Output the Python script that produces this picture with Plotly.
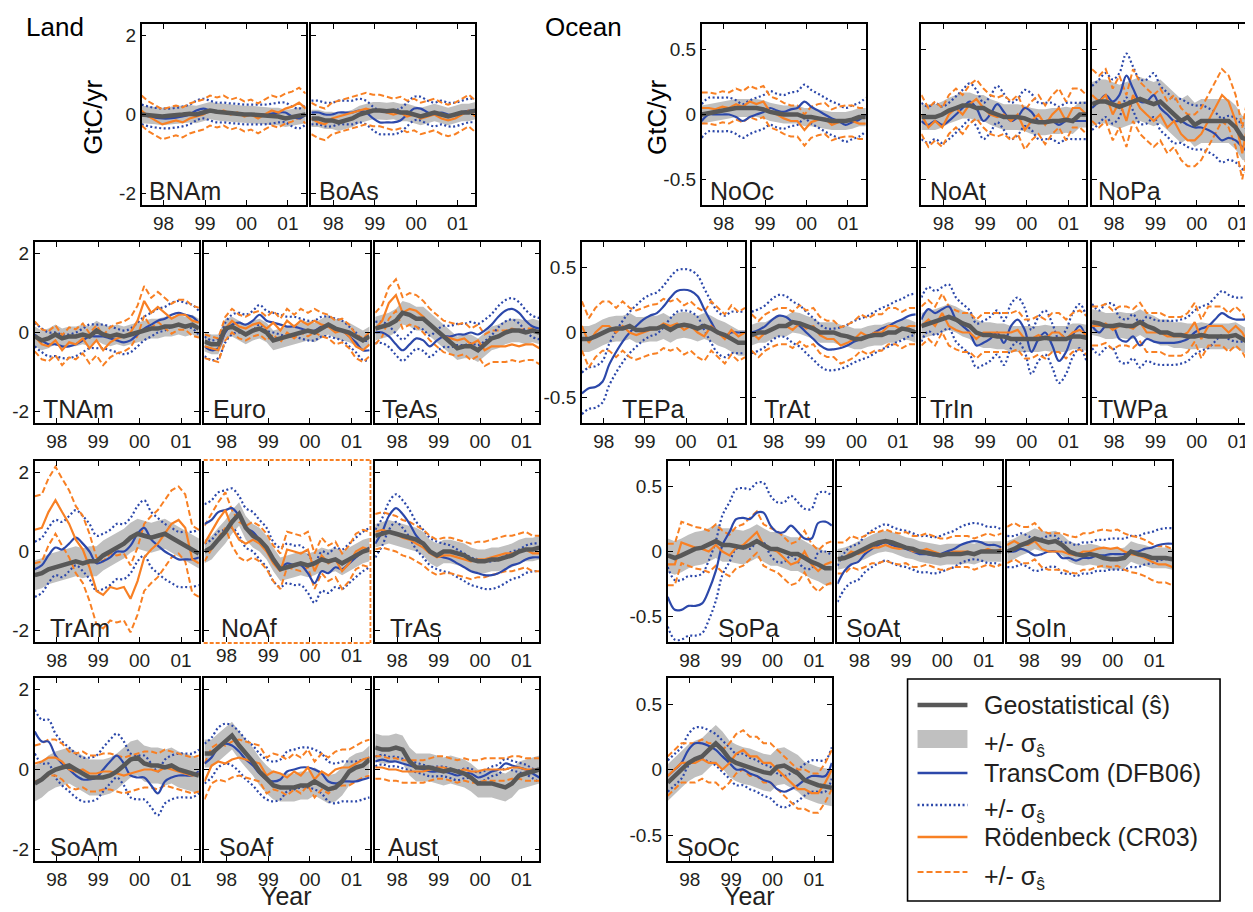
import plotly.graph_objects as go

# page size and the browser's default body margin (content starts 8px in)
PAGE_W, PAGE_H = 1253, 912
OFF = 8
W, H = PAGE_W - OFF, PAGE_H - OFF
FONT = "Liberation Sans, Arial, sans-serif"

# ---------------- data (GtC/yr), bimonthly samples ----------------
YEARS = [1997.47, 1997.64, 1997.80, 1997.97, 1998.13, 1998.30, 1998.46, 1998.63,
         1998.79, 1998.96, 1999.12, 1999.29, 1999.45, 1999.62, 1999.78, 1999.95,
         2000.11, 2000.28, 2000.44, 2000.61, 2000.77, 2000.94, 2001.10, 2001.27, 2001.43]
YEAR_TICKS = [1998, 1999, 2000, 2001]
YEAR_LABELS = ["98", "99", "00", "01"]

# ---- Land ----
BNAM_GEO = [0.0, -0.02, -0.03, -0.05, -0.03, 0.0, 0.0, 0.02, 0.0, 0.05, 0.1, 0.07, 0.05, 0.03, 0.02, 0.0, 0.0, -0.02, -0.03, -0.05, -0.05, -0.1, -0.08, -0.03, 0.0]
BNAM_TC = [0.0, -0.05, -0.08, -0.1, -0.1, -0.08, -0.05, 0.0, 0.1, 0.15, 0.1, 0.05, 0.05, 0.03, 0.02, 0.0, 0.0, 0.0, 0.0, 0.02, 0.05, 0.05, -0.05, -0.1, 0.0]
BNAM_CR = [0.1, -0.05, -0.15, -0.25, -0.2, -0.15, -0.2, -0.1, -0.05, 0.0, 0.1, 0.05, 0.1, 0.0, 0.05, -0.05, 0.0, -0.1, 0.0, 0.1, 0.05, 0.15, 0.2, 0.3, 0.15]
BNAM_SD = [0.22, 0.25, 0.38]

BOAS_GEO = [-0.1, -0.1, -0.15, -0.15, -0.2, -0.15, -0.1, 0.0, 0.05, 0.1, 0.1, 0.08, 0.1, 0.05, 0.05, 0.0, -0.05, 0.0, 0.05, 0.0, -0.05, 0.0, 0.05, 0.05, 0.1]
BOAS_TC = [0.05, 0.05, 0.0, 0.0, 0.05, 0.05, 0.05, 0.1, 0.05, -0.1, -0.2, -0.2, -0.2, -0.15, 0.0, 0.15, 0.15, 0.05, 0.0, 0.05, 0.0, 0.0, 0.05, 0.1, 0.1]
BOAS_CR = [-0.1, -0.2, -0.25, -0.1, -0.05, 0.0, 0.05, 0.1, 0.15, 0.1, 0.1, 0.05, 0.0, 0.05, -0.05, 0.0, -0.1, -0.05, 0.0, -0.1, -0.15, -0.1, 0.0, 0.1, -0.05]
BOAS_SD = [0.22, 0.3, 0.4]

TNAM_GEO = [-0.1, -0.2, -0.15, -0.05, -0.15, -0.1, -0.1, -0.05, -0.1, 0.05, -0.05, -0.1, -0.05, -0.1, -0.05, 0.0, 0.05, 0.1, 0.1, 0.15, 0.15, 0.2, 0.15, 0.2, 0.1]
TNAM_TC = [-0.05, -0.2, -0.3, -0.3, -0.35, -0.35, -0.3, -0.2, -0.1, -0.1, -0.1, -0.15, -0.2, -0.25, -0.2, -0.05, 0.1, 0.2, 0.3, 0.35, 0.45, 0.5, 0.45, 0.4, 0.25]
TNAM_CR = [-0.1, -0.3, -0.35, -0.2, -0.45, -0.25, -0.3, -0.15, -0.4, -0.2, -0.45, -0.25, -0.15, -0.1, 0.0, 0.3, 0.8, 0.5, 0.65, 0.5, 0.35, 0.45, 0.45, 0.3, 0.25]
TNAM_SD = [0.25, 0.3, 0.38]

EURO_GEO = [-0.23, -0.3, -0.3, 0.1, 0.15, 0.05, -0.05, 0.05, 0.1, 0.0, -0.2, -0.15, -0.1, -0.05, 0.0, 0.05, 0.0, 0.1, 0.2, 0.1, 0.05, 0.0, -0.1, -0.2, -0.1]
EURO_TC = [-0.35, -0.45, -0.4, 0.0, 0.2, 0.25, 0.2, 0.3, 0.45, 0.3, 0.25, 0.2, 0.15, 0.15, 0.1, 0.05, 0.05, 0.15, 0.15, 0.1, 0.05, -0.1, -0.25, -0.45, -0.45]
EURO_CR = [-0.35, -0.4, -0.45, 0.1, 0.3, 0.15, 0.1, 0.2, 0.25, 0.1, 0.25, 0.05, 0.3, 0.15, 0.3, 0.2, 0.3, 0.2, 0.15, 0.0, 0.05, -0.1, -0.35, -0.45, -0.3]
EURO_SD = [0.25, 0.25, 0.3]

TEAS_GEO = [0.1, 0.15, 0.2, 0.3, 0.5, 0.45, 0.35, 0.35, 0.2, 0.05, -0.1, -0.25, -0.4, -0.35, -0.35, -0.45, -0.3, -0.15, -0.1, 0.0, 0.05, 0.05, 0.0, 0.05, 0.0]
TEAS_TC = [0.0, 0.0, -0.1, -0.3, -0.45, -0.3, -0.15, -0.2, -0.35, -0.2, -0.1, -0.1, -0.05, -0.05, 0.0, -0.05, 0.05, 0.2, 0.4, 0.55, 0.6, 0.5, 0.3, 0.15, 0.1]
TEAS_CR = [0.1, 0.3, 0.75, 0.95, 0.5, 0.6, 0.55, 0.4, 0.2, 0.05, -0.1, -0.15, -0.2, -0.15, -0.3, -0.2, -0.45, -0.35, -0.35, -0.35, -0.3, -0.35, -0.3, -0.3, -0.4]
TEAS_SD = [0.3, 0.27, 0.4]

TRAM_GEO = [-0.6, -0.55, -0.45, -0.4, -0.35, -0.3, -0.25, -0.3, -0.25, -0.25, -0.1, 0.0, 0.1, 0.2, 0.35, 0.45, 0.4, 0.35, 0.4, 0.45, 0.35, 0.25, 0.15, 0.05, -0.05]
TRAM_TC = [-0.45, -0.35, -0.1, 0.1, 0.05, 0.2, 0.35, 0.2, 0.0, -0.3, -0.25, -0.15, 0.0, 0.0, 0.15, 0.45, 0.6, 0.3, 0.15, 0.0, -0.1, -0.2, -0.2, -0.2, -0.15]
TRAM_CR = [0.55, 0.6, 1.0, 1.3, 1.0, 0.7, 0.3, 0.05, -0.4, -1.0, -1.1, -0.9, -0.95, -0.9, -1.2, -0.75, -0.15, 0.05, 0.2, 0.45, 0.7, 0.8, 0.6, -0.2, -0.3]
TRAM_SD = [0.38, 0.7, 0.85]

NOAF_GEO = [0.0, 0.1, 0.3, 0.5, 0.75, 0.95, 0.6, 0.4, 0.3, 0.1, -0.2, -0.45, -0.4, -0.35, -0.3, -0.35, -0.3, -0.2, -0.25, -0.2, -0.3, -0.2, -0.1, 0.0, 0.05]
NOAF_TC = [0.7, 0.8, 1.0, 1.05, 1.1, 0.9, 0.6, 0.5, 0.3, 0.1, -0.25, -0.4, -0.3, -0.35, -0.35, -0.55, -0.8, -0.5, -0.55, -0.4, -0.45, -0.3, -0.15, 0.0, 0.1]
NOAF_CR = [0.2, 0.5, 0.8, 1.05, 0.6, 0.3, 0.2, 0.3, 0.2, 0.0, -0.3, -0.5, 0.05, 0.0, -0.05, 0.05, -0.5, -0.1, -0.3, -0.2, -0.5, -0.3, 0.0, 0.1, 0.05]
NOAF_SD = [0.3, 0.5, 0.45]

TRAS_GEO = [0.4, 0.45, 0.5, 0.45, 0.4, 0.35, 0.3, 0.2, 0.0, -0.1, 0.0, 0.0, -0.05, -0.1, -0.2, -0.25, -0.25, -0.2, -0.2, -0.15, -0.1, 0.0, 0.05, 0.05, 0.1]
TRAS_TC = [0.2, 0.5, 0.9, 1.1, 0.95, 0.7, 0.4, 0.2, 0.0, -0.1, -0.15, -0.2, -0.3, -0.4, -0.5, -0.55, -0.6, -0.6, -0.55, -0.45, -0.35, -0.3, -0.2, -0.15, -0.15]
TRAS_CR = [0.5, 0.55, 0.5, 0.45, 0.35, 0.3, 0.2, 0.1, -0.05, -0.15, -0.1, -0.1, -0.15, -0.2, -0.25, -0.2, -0.2, -0.15, -0.1, -0.05, -0.05, 0.0, 0.05, -0.05, -0.05]
TRAS_SD = [0.3, 0.35, 0.45]

SOAM_GEO = [-0.35, -0.25, -0.1, 0.0, 0.05, 0.1, 0.0, -0.1, -0.2, -0.2, -0.2, -0.15, -0.05, 0.1, 0.25, 0.3, 0.15, 0.1, 0.1, 0.05, 0.1, 0.0, -0.05, -0.1, -0.15]
SOAM_TC = [0.95, 0.7, 0.7, 0.35, 0.15, 0.0, -0.15, -0.25, -0.25, -0.2, 0.0, 0.2, 0.35, 0.15, -0.15, -0.2, -0.2, -0.4, -0.6, -0.3, -0.2, -0.15, -0.15, -0.15, -0.05]
SOAM_CR = [0.15, 0.2, 0.3, 0.3, 0.2, 0.0, -0.05, 0.0, -0.1, -0.1, -0.05, -0.05, -0.1, -0.15, -0.1, -0.05, 0.0, 0.0, -0.05, 0.05, 0.0, -0.05, -0.1, -0.15, -0.1]
SOAM_SD = [0.45, 0.55, 0.45]

SOAF_GEO = [0.4, 0.4, 0.55, 0.7, 0.85, 0.6, 0.4, 0.2, -0.05, -0.25, -0.4, -0.45, -0.45, -0.45, -0.4, -0.4, -0.3, -0.4, -0.5, -0.45, -0.3, -0.05, 0.05, 0.1, 0.25]
SOAF_TC = [0.15, 0.3, 0.55, 0.65, 0.6, 0.45, 0.25, 0.1, -0.1, -0.25, -0.3, -0.25, -0.05, 0.0, 0.05, 0.05, 0.0, -0.1, -0.3, -0.35, -0.3, -0.3, -0.3, -0.25, -0.2]
SOAF_CR = [-0.3, 0.1, 0.2, 0.15, 0.25, 0.3, 0.25, 0.2, 0.15, -0.15, -0.05, -0.1, -0.2, -0.05, -0.15, 0.05, -0.25, -0.05, -0.15, 0.0, 0.05, 0.05, 0.15, 0.25, 0.3]
SOAF_SD = [0.35, 0.5, 0.45]

AUST_GEO = [0.55, 0.5, 0.5, 0.55, 0.5, 0.2, 0.05, 0.05, 0.05, 0.0, -0.05, 0.0, -0.05, -0.1, -0.2, -0.35, -0.35, -0.35, -0.4, -0.45, -0.35, -0.15, -0.1, -0.05, 0.0]
AUST_TC = [0.2, 0.25, 0.2, 0.2, 0.15, 0.1, 0.05, 0.0, -0.05, -0.05, -0.05, -0.1, -0.15, -0.1, -0.1, -0.2, -0.15, -0.05, 0.0, 0.15, 0.1, 0.05, 0.0, -0.1, -0.2]
AUST_CR = [0.05, 0.05, 0.0, 0.0, -0.05, -0.05, -0.05, -0.05, 0.0, 0.05, 0.05, 0.0, -0.05, 0.0, -0.05, -0.05, 0.0, 0.0, 0.0, 0.0, 0.05, 0.05, 0.0, 0.0, 0.0]
AUST_SD = [0.35, 0.12, 0.28]

# ---- Ocean ----
NOOC_GEO = [0.0, 0.01, 0.02, 0.03, 0.04, 0.05, 0.05, 0.05, 0.05, 0.04, 0.02, 0.01, 0.0, 0.0, 0.0, -0.02, -0.02, -0.03, -0.04, -0.05, -0.05, -0.05, -0.04, -0.02, -0.02]
NOOC_TC = [-0.05, 0.0, 0.0, 0.0, 0.0, -0.02, -0.05, -0.02, 0.0, 0.02, 0.05, 0.03, 0.02, 0.04, 0.05, 0.1, 0.06, 0.03, 0.0, -0.03, -0.05, -0.08, -0.06, -0.04, 0.0]
NOOC_CR = [0.05, 0.05, 0.04, 0.06, 0.05, 0.08, 0.06, 0.1, 0.08, 0.1, 0.02, 0.0, -0.03, -0.05, -0.05, -0.12, -0.06, -0.04, -0.03, -0.08, -0.06, -0.05, -0.05, -0.07, -0.07]
NOOC_SD = [0.07, 0.13, 0.12]

NOAT_GEO = [-0.02, -0.02, -0.02, 0.0, 0.03, 0.05, 0.07, 0.07, 0.05, 0.05, 0.02, 0.0, -0.02, -0.02, -0.02, -0.03, -0.05, -0.06, -0.06, -0.05, -0.05, -0.04, -0.05, 0.0, 0.0]
NOAT_TC = [-0.05, -0.08, -0.05, -0.08, -0.05, 0.0, 0.05, 0.1, 0.05, -0.05, 0.0, 0.08, 0.02, -0.05, -0.02, 0.05, 0.02, -0.05, -0.05, -0.05, -0.08, -0.05, -0.05, -0.05, -0.05]
NOAT_CR = [0.0, -0.1, -0.05, -0.1, 0.0, 0.05, 0.0, 0.08, 0.12, 0.05, 0.0, -0.02, 0.0, -0.05, 0.0, -0.12, -0.05, 0.0, -0.08, 0.0, 0.05, -0.05, 0.05, 0.05, 0.0]
NOAT_SD = [0.1, 0.14, 0.15]

NOPA_GEO = [0.08, 0.1, 0.1, 0.08, 0.06, 0.08, 0.1, 0.12, 0.1, 0.08, 0.1, 0.05, 0.0, -0.05, -0.02, -0.08, -0.05, -0.05, -0.05, -0.05, -0.05, -0.1, -0.18, -0.2, -0.2]
NOPA_TC = [0.05, 0.1, 0.15, 0.1, 0.15, 0.3, 0.2, 0.1, 0.1, 0.15, 0.05, 0.0, -0.05, -0.05, -0.08, -0.1, -0.1, -0.12, -0.15, -0.2, -0.18, -0.2, -0.25, -0.3, -0.35]
NOPA_CR = [0.15, 0.1, 0.15, 0.0, 0.1, -0.05, 0.15, 0.05, 0.0, -0.05, 0.0, -0.1, -0.05, -0.15, -0.2, -0.2, -0.15, -0.05, 0.05, 0.15, 0.1, -0.05, -0.3, 0.0, 0.1]
NOPA_SD = [0.17, 0.17, 0.2]

TEPA_GEO = [-0.05, -0.05, -0.03, 0.0, 0.02, 0.03, 0.03, 0.05, 0.02, 0.02, 0.03, 0.03, 0.05, 0.02, 0.05, 0.06, 0.05, 0.03, 0.05, 0.03, 0.0, -0.02, -0.05, -0.08, -0.08]
TEPA_TC = [-0.47, -0.43, -0.42, -0.38, -0.25, -0.15, -0.07, 0.0, 0.05, 0.1, 0.13, 0.15, 0.2, 0.27, 0.32, 0.33, 0.32, 0.28, 0.18, 0.08, 0.0, -0.03, 0.0, 0.0, 0.0]
TEPA_CR = [0.05, -0.08, 0.0, 0.05, 0.05, 0.0, 0.05, 0.0, -0.02, 0.0, 0.02, 0.03, 0.07, 0.05, 0.07, 0.02, 0.05, 0.0, -0.03, 0.05, 0.0, -0.05, 0.02, -0.03, 0.0]
TEPA_SD = [0.1, 0.16, 0.19]

TRAT_GEO = [-0.02, 0.0, 0.0, 0.03, 0.05, 0.05, 0.08, 0.07, 0.05, 0.03, 0.0, 0.0, 0.0, -0.02, -0.03, -0.05, -0.05, -0.03, -0.02, -0.02, 0.0, 0.0, 0.03, 0.02, 0.0]
TRAT_TC = [0.0, 0.02, 0.05, 0.1, 0.13, 0.12, 0.08, 0.05, 0.0, -0.05, -0.1, -0.13, -0.13, -0.12, -0.1, -0.07, -0.05, -0.03, 0.0, 0.03, 0.05, 0.08, 0.1, 0.13, 0.14]
TRAT_CR = [0.0, -0.05, 0.0, 0.03, 0.05, 0.05, 0.02, 0.07, 0.03, 0.05, -0.02, -0.05, -0.05, -0.1, -0.08, -0.05, 0.0, -0.03, 0.0, 0.0, 0.05, 0.05, 0.02, 0.05, 0.05]
TRAT_SD = [0.08, 0.16, 0.14]

TRIN_GEO = [0.05, 0.07, 0.08, 0.1, 0.12, 0.1, 0.07, 0.05, 0.0, -0.02, -0.02, -0.03, -0.03, -0.05, -0.05, -0.05, -0.05, -0.05, -0.04, -0.05, -0.05, -0.05, -0.03, -0.03, -0.04]
TRIN_TC = [0.1, 0.18, 0.15, 0.18, 0.2, 0.1, 0.05, 0.0, -0.1, -0.08, -0.05, 0.0, -0.08, 0.05, 0.1, 0.02, -0.15, -0.05, 0.0, -0.1, -0.22, -0.15, -0.02, 0.05, -0.05]
TRIN_CR = [0.05, 0.1, 0.05, 0.15, 0.05, 0.02, 0.0, 0.0, -0.05, 0.0, 0.0, 0.0, 0.0, 0.0, 0.02, -0.05, -0.05, -0.02, -0.05, 0.0, 0.0, -0.05, 0.0, 0.02, -0.02]
TRIN_SD = [0.1, 0.17, 0.15]

TWPA_GEO = [0.08, 0.07, 0.05, 0.05, 0.06, 0.05, 0.05, 0.08, 0.05, 0.03, 0.0, 0.0, -0.02, -0.02, -0.03, -0.03, -0.02, -0.03, -0.03, -0.03, -0.03, -0.02, -0.05, -0.08, -0.08]
TWPA_TC = [0.05, 0.0, 0.05, 0.05, -0.05, -0.07, -0.03, -0.1, -0.05, -0.07, -0.08, -0.08, -0.08, -0.07, -0.05, 0.0, 0.03, 0.05, 0.1, 0.15, 0.12, 0.1, 0.1, 0.1, 0.05]
TWPA_CR = [0.05, 0.05, 0.07, 0.02, 0.05, 0.05, 0.03, 0.08, 0.0, 0.0, 0.0, -0.03, -0.03, -0.03, 0.0, 0.08, -0.05, 0.05, 0.05, 0.05, 0.0, 0.05, 0.0, -0.1, -0.1]
TWPA_SD = [0.1, 0.17, 0.15]

SOPA_GEO = [-0.03, -0.05, -0.03, 0.0, 0.02, 0.03, 0.05, 0.08, 0.05, 0.05, 0.04, 0.03, 0.05, 0.08, 0.05, 0.02, 0.02, 0.0, -0.02, -0.02, -0.05, -0.08, -0.1, -0.13, -0.13]
SOPA_TC = [-0.35, -0.45, -0.45, -0.42, -0.42, -0.4, -0.3, -0.15, 0.05, 0.15, 0.25, 0.26, 0.25, 0.3, 0.3, 0.2, 0.15, 0.15, 0.2, 0.15, 0.1, 0.1, 0.22, 0.23, 0.2]
SOPA_CR = [-0.1, -0.1, 0.07, 0.05, 0.03, 0.02, 0.0, 0.05, 0.0, -0.03, 0.03, 0.05, 0.1, 0.15, 0.05, 0.02, 0.0, -0.05, -0.1, -0.08, 0.0, -0.1, -0.15, -0.1, -0.08]
SOPA_SD = [0.13, 0.23, 0.16]

SOAT_GEO = [-0.06, -0.05, -0.03, 0.0, 0.02, 0.05, 0.07, 0.08, 0.07, 0.05, 0.03, 0.02, 0.0, -0.01, -0.02, -0.03, -0.02, -0.02, -0.02, -0.01, -0.02, 0.0, 0.0, 0.0, 0.0]
SOAT_TC = [-0.25, -0.15, -0.1, -0.08, -0.02, 0.02, 0.05, 0.07, 0.05, 0.03, 0.02, 0.0, -0.02, -0.02, -0.03, -0.02, 0.0, 0.02, 0.05, 0.07, 0.08, 0.07, 0.05, 0.05, 0.03]
SOAT_CR = [-0.05, -0.05, 0.0, -0.02, 0.0, 0.03, 0.03, 0.05, 0.03, 0.02, 0.03, 0.0, 0.0, 0.02, 0.0, -0.02, -0.02, 0.0, 0.0, 0.0, -0.02, 0.0, 0.02, 0.0, 0.02]
SOAT_SD = [0.08, 0.14, 0.12]

SOIN_GEO = [0.0, 0.02, 0.05, 0.07, 0.1, 0.08, 0.07, 0.08, 0.05, 0.0, -0.02, -0.03, -0.02, -0.03, -0.05, -0.06, -0.06, -0.05, 0.0, -0.02, -0.03, -0.05, -0.05, -0.05, -0.06]
SOIN_TC = [0.0, 0.0, 0.02, 0.0, -0.03, -0.02, 0.0, 0.0, -0.05, -0.05, -0.07, -0.05, -0.05, -0.03, -0.03, -0.02, -0.02, -0.02, 0.0, 0.0, 0.02, 0.03, 0.05, 0.06, 0.06]
SOIN_CR = [0.05, 0.08, 0.05, 0.05, 0.08, 0.02, 0.0, 0.0, 0.0, -0.02, -0.03, 0.0, 0.0, 0.02, 0.03, 0.02, 0.03, 0.0, -0.02, -0.03, -0.05, -0.08, -0.1, -0.1, -0.12]
SOIN_SD = [0.08, 0.12, 0.14]

SOOC_GEO = [-0.1, -0.05, 0.0, 0.05, 0.08, 0.1, 0.15, 0.2, 0.15, 0.08, 0.05, 0.03, 0.02, 0.0, -0.02, -0.03, 0.02, 0.03, 0.0, -0.03, -0.08, -0.1, -0.12, -0.13, -0.14]
SOOC_TC = [-0.05, 0.0, 0.05, 0.15, 0.2, 0.2, 0.18, 0.15, 0.1, 0.05, 0.0, 0.0, -0.03, -0.05, -0.08, -0.1, -0.15, -0.17, -0.15, -0.12, -0.08, -0.05, -0.05, -0.05, 0.05]
SOOC_CR = [-0.05, 0.0, 0.05, 0.05, 0.05, 0.08, 0.05, 0.05, 0.0, 0.05, 0.12, 0.15, 0.1, 0.1, 0.05, 0.05, 0.0, -0.05, -0.1, -0.15, -0.15, -0.18, -0.18, -0.1, 0.0]
SOOC_SD = [0.14, 0.12, 0.15]

# panel: name, realm, geo, tc, cr, sigmas (geo, TransCom, Roedenbeck)
PANELS = [
    ("BNAm", "land", BNAM_GEO, BNAM_TC, BNAM_CR, BNAM_SD),
    ("BoAs", "land", BOAS_GEO, BOAS_TC, BOAS_CR, BOAS_SD),
    ("TNAm", "land", TNAM_GEO, TNAM_TC, TNAM_CR, TNAM_SD),
    ("Euro", "land", EURO_GEO, EURO_TC, EURO_CR, EURO_SD),
    ("TeAs", "land", TEAS_GEO, TEAS_TC, TEAS_CR, TEAS_SD),
    ("TrAm", "land", TRAM_GEO, TRAM_TC, TRAM_CR, TRAM_SD),
    ("NoAf", "land", NOAF_GEO, NOAF_TC, NOAF_CR, NOAF_SD),
    ("TrAs", "land", TRAS_GEO, TRAS_TC, TRAS_CR, TRAS_SD),
    ("SoAm", "land", SOAM_GEO, SOAM_TC, SOAM_CR, SOAM_SD),
    ("SoAf", "land", SOAF_GEO, SOAF_TC, SOAF_CR, SOAF_SD),
    ("Aust", "land", AUST_GEO, AUST_TC, AUST_CR, AUST_SD),
    ("NoOc", "ocean", NOOC_GEO, NOOC_TC, NOOC_CR, NOOC_SD),
    ("NoAt", "ocean", NOAT_GEO, NOAT_TC, NOAT_CR, NOAT_SD),
    ("NoPa", "ocean", NOPA_GEO, NOPA_TC, NOPA_CR, NOPA_SD),
    ("TEPa", "ocean", TEPA_GEO, TEPA_TC, TEPA_CR, TEPA_SD),
    ("TrAt", "ocean", TRAT_GEO, TRAT_TC, TRAT_CR, TRAT_SD),
    ("TrIn", "ocean", TRIN_GEO, TRIN_TC, TRIN_CR, TRIN_SD),
    ("TWPa", "ocean", TWPA_GEO, TWPA_TC, TWPA_CR, TWPA_SD),
    ("SoPa", "ocean", SOPA_GEO, SOPA_TC, SOPA_CR, SOPA_SD),
    ("SoAt", "ocean", SOAT_GEO, SOAT_TC, SOAT_CR, SOAT_SD),
    ("SoIn", "ocean", SOIN_GEO, SOIN_TC, SOIN_CR, SOIN_SD),
    ("SoOc", "ocean", SOOC_GEO, SOOC_TC, SOOC_CR, SOOC_SD),
]

# ---------------- layout (page pixels: frame left, (top, bottom), frame right, label dx, y labels) ----------------
R1, R2, R3, R4 = (23, 206), (241, 424), (460, 643), (677, 862)
BOXES = {
    "BNAm": (141, R1, 307, 6, True), "BoAs": (311, R1, 477, 6, False),
    "TNAm": (34, R2, 200, 7, True), "Euro": (204, R2, 371, 7, False), "TeAs": (375, R2, 541, 6, False),
    "TrAm": (34, R3, 200, 14, True), "NoAf": (204, R3, 371, 15, False), "TrAs": (375, R3, 541, 14, False),
    "SoAm": (34, R4, 200, 14, True), "SoAf": (204, R4, 371, 13, False), "Aust": (375, R4, 541, 12, False),
    "NoOc": (702, R1, 868, 7, True), "NoAt": (922, R1, 1089, 7, False), "NoPa": (1093, R1, 1259, 5, False),
    "TEPa": (582, R2, 747, 39, True), "TrAt": (752, R2, 918, 11, False), "TrIn": (922, R2, 1089, 7, False),
    "TWPa": (1093, R2, 1259, 5, False),
    "SoPa": (668, R3, 834, 49, True), "SoAt": (838, R3, 1004, 7, False), "SoIn": (1008, R3, 1175, 7, False),
    "SoOc": (668, R4, 834, 8, True),
}
X_LO, X_HI = 1997.47, 2001.43
LW = 1.6

GRAY = "rgb(88,88,88)"
BAND = "rgb(192,192,192)"
BLUE = "rgb(44,72,170)"
ORANGE = "rgb(248,128,36)"
TXT = "#231f20"


def px(x):
    return (x - OFF) / W


def py(y):
    return 1 - (y - OFF) / H


fig = go.Figure()
annotations = []
shapes = []
axes = {}

for i, (name, realm, geo, tc, cr, sd) in enumerate(PANELS, start=1):
    left, (top, bottom), right, ldx, show_y = BOXES[name]
    full_w = right - left
    if right > PAGE_W:
        xhi = X_LO + (X_HI - X_LO) * (PAGE_W + 1 - left) / full_w
        d_right = 1.0
    else:
        xhi = X_HI
        d_right = px(right - LW / 2)
    xa = "x" if i == 1 else f"x{i}"
    ya = "y" if i == 1 else f"y{i}"

    gs, ts, cs = sd
    up = [v + gs for v in geo]
    lo = [v - gs for v in geo]
    fig.add_trace(go.Scatter(x=YEARS + YEARS[::-1], y=up + lo[::-1], fill="toself",
                             fillcolor=BAND, line=dict(width=0), mode="lines",
                             xaxis=xa, yaxis=ya, showlegend=False, hoverinfo="skip"))
    for sgn in (1, -1):
        fig.add_trace(go.Scatter(x=YEARS, y=[v + sgn * ts for v in tc], mode="lines",
                                 line=dict(color=BLUE, width=2.2, dash="2px,2.5px", shape="spline"),
                                 xaxis=xa, yaxis=ya, showlegend=False))
        fig.add_trace(go.Scatter(x=YEARS, y=[v + sgn * cs for v in cr], mode="lines",
                                 line=dict(color=ORANGE, width=2, dash="6px,3px"),
                                 xaxis=xa, yaxis=ya, showlegend=False))
    fig.add_trace(go.Scatter(x=YEARS, y=tc, mode="lines",
                             line=dict(color=BLUE, width=2.2, shape="spline"),
                             xaxis=xa, yaxis=ya, showlegend=False))
    fig.add_trace(go.Scatter(x=YEARS, y=cr, mode="lines",
                             line=dict(color=ORANGE, width=2.2),
                             xaxis=xa, yaxis=ya, showlegend=False))
    fig.add_trace(go.Scatter(x=YEARS, y=geo, mode="lines",
                             line=dict(color=GRAY, width=4.5),
                             xaxis=xa, yaxis=ya, showlegend=False))

    common = dict(showline=True, linecolor="black", linewidth=LW, mirror="ticks",
                  ticks="inside", ticklen=5, tickwidth=1, tickcolor="black",
                  showgrid=False, zeroline=False,
                  tickfont=dict(family=FONT, size=19, color=TXT))
    xkey = "xaxis" if i == 1 else f"xaxis{i}"
    ykey = "yaxis" if i == 1 else f"yaxis{i}"
    xcfg = dict(common, domain=[px(left + LW / 2), d_right], anchor=ya, range=[X_LO, xhi],
                tickvals=YEAR_TICKS, ticktext=YEAR_LABELS)
    if realm == "land":
        yr, yt, ytt = [-2.3, 2.3], [-2, 0, 2], ["-2", "0", "2"]
    else:
        yr, yt, ytt = [-0.7, 0.7], [-0.5, 0, 0.5], ["-0.5", "0", "0.5"]
    ycfg = dict(common, domain=[py(bottom - LW / 2), py(top + LW / 2)], anchor=xa, range=yr,
                tickvals=yt, ticktext=ytt, showticklabels=show_y)
    if name == "NoAf":
        xcfg["showline"] = False
        ycfg["mirror"] = False
        dash_line = dict(color=ORANGE, width=1.8, dash="4px,2px")
        for (x0, y0, x1, y1) in [(left, top, right, top), (right, top, right, bottom), (left, bottom, right, bottom)]:
            shapes.append(dict(type="line", xref="paper", yref="paper", x0=px(x0), x1=px(x1),
                               y0=py(y0), y1=py(y1), line=dash_line))
    axes[xkey] = xcfg
    axes[ykey] = ycfg

    annotations.append(dict(text=name, xref="paper", yref="paper", x=px(left + ldx), y=py(bottom - 15),
                            xanchor="left", yanchor="middle", showarrow=False,
                            font=dict(family=FONT, size=25, color=TXT)))

# titles
for txt, x, y in [("Land", 24, 27), ("Ocean", 544, 27)]:
    annotations.append(dict(text=txt, xref="paper", yref="paper", x=px(x), y=py(y), xanchor="left",
                            yanchor="middle", showarrow=False, font=dict(family=FONT, size=26, color="black")))
for x, y in [(93, 117), (658, 117)]:
    annotations.append(dict(text="GtC/yr", xref="paper", yref="paper", x=px(x), y=py(y), textangle=-90,
                            xanchor="center", yanchor="middle", showarrow=False,
                            font=dict(family=FONT, size=26, color="black")))
for x in (287, 751):
    annotations.append(dict(text="Year", xref="paper", yref="paper", x=px(x), y=py(PAGE_H), xanchor="center",
                            yanchor="bottom", showarrow=False, font=dict(family=FONT, size=25, color=TXT)))

# legend (drawn manually)
LEG_L, LEG_T, LEG_R, LEG_B = 909, 679, 1222, 901
shapes.append(dict(type="rect", xref="paper", yref="paper", x0=px(LEG_L), x1=px(LEG_R), y0=py(LEG_B), y1=py(LEG_T),
                   line=dict(color="black", width=1.6), fillcolor="white", layer="above"))
LEG_ITEMS = [
    ("Geostatistical (ŝ)", "line", GRAY, 4.5, "solid", 705),
    ("+/- σ<sub>ŝ</sub>", "band", BAND, 0, "solid", 739),
    ("TransCom (DFB06)", "line", BLUE, 2.5, "solid", 773),
    ("+/- σ<sub>ŝ</sub>", "line", BLUE, 2.5, "2px,2.5px", 805),
    ("Rödenbeck (CR03)", "line", ORANGE, 2.5, "solid", 837),
    ("+/- σ<sub>ŝ</sub>", "line", ORANGE, 2.2, "6px,3px", 872),
]
for label, kind, color, width, dash, yy in LEG_ITEMS:
    if kind == "band":
        shapes.append(dict(type="rect", xref="paper", yref="paper", x0=px(919), x1=px(969),
                           y0=py(yy + 9), y1=py(yy - 9), line=dict(width=0), fillcolor=color, layer="above"))
    else:
        shapes.append(dict(type="line", xref="paper", yref="paper", x0=px(919), x1=px(969), y0=py(yy), y1=py(yy),
                           line=dict(color=color, width=width, dash=dash), layer="above"))
    ty = yy + 6 if "sub" in label else yy
    annotations.append(dict(text=label, xref="paper", yref="paper", x=px(984), y=py(ty), xanchor="left",
                            yanchor="middle", showarrow=False, font=dict(family=FONT, size=25, color=TXT)))

fig.update_layout(width=W, height=H, margin=dict(l=0, r=0, t=0, b=0), plot_bgcolor="white",
                  paper_bgcolor="white", showlegend=False, annotations=annotations, shapes=shapes, **axes)
fig.write_html("out.html")
